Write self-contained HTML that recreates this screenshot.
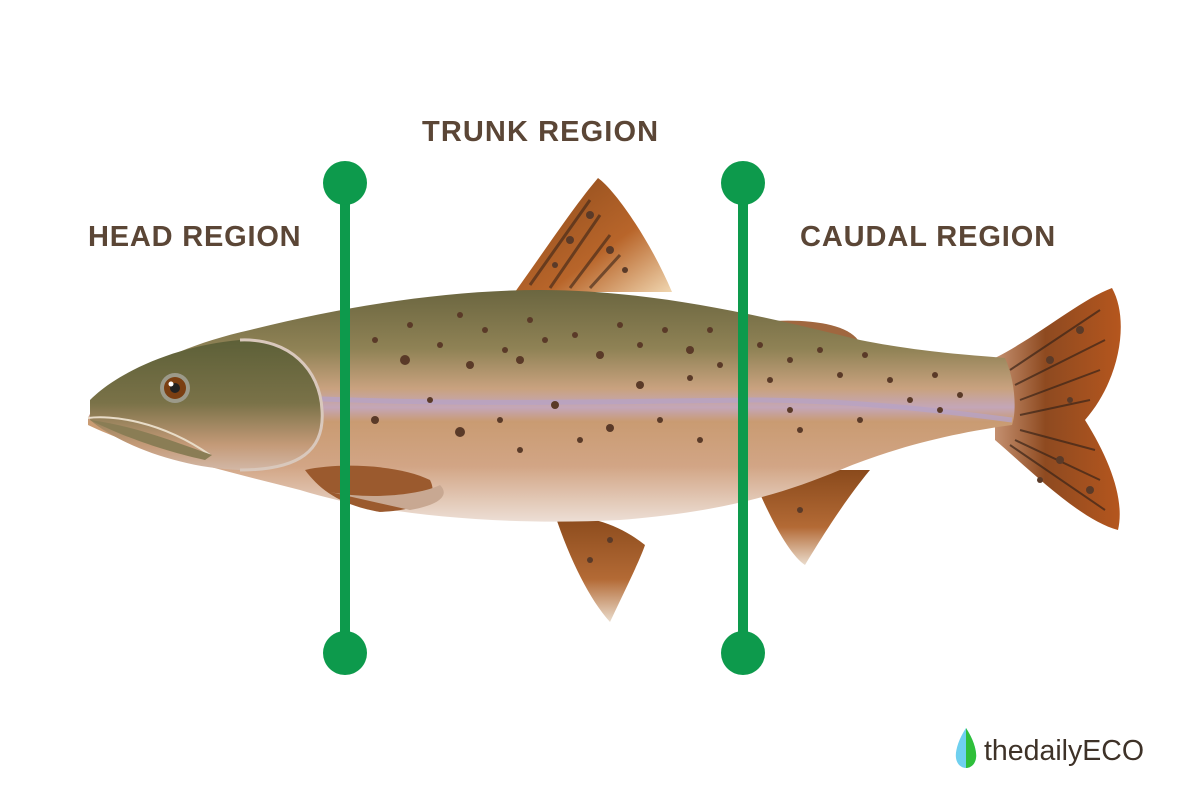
<!DOCTYPE html>
<html><head><meta charset="utf-8"><style>
html,body{margin:0;padding:0;background:#fff;width:1200px;height:800px;overflow:hidden}
svg{display:block}
text{font-family:"Liberation Sans",sans-serif;font-weight:bold;fill:#5b4636}
</style></head><body>
<svg width="1200" height="800" viewBox="0 0 1200 800">
<defs>
<linearGradient id="body" x1="0" y1="290" x2="0" y2="525" gradientUnits="userSpaceOnUse">
<stop offset="0" stop-color="#6b6640"/><stop offset="0.25" stop-color="#8f8255"/>
<stop offset="0.42" stop-color="#c9a27f"/><stop offset="0.5" stop-color="#c4a6b8"/>
<stop offset="0.56" stop-color="#c99b72"/><stop offset="0.75" stop-color="#d2a585"/>
<stop offset="1" stop-color="#eee2da"/></linearGradient>
<linearGradient id="head" x1="0" y1="340" x2="0" y2="480" gradientUnits="userSpaceOnUse">
<stop offset="0" stop-color="#5d6038"/><stop offset="0.45" stop-color="#7a7248"/>
<stop offset="0.75" stop-color="#c49a78"/><stop offset="1" stop-color="#d8c3b8"/></linearGradient>
<linearGradient id="fin" x1="0" y1="0" x2="1" y2="1">
<stop offset="0" stop-color="#8a4a1c"/><stop offset="0.6" stop-color="#b8652a"/><stop offset="1" stop-color="#f0d6b0"/></linearGradient>
<linearGradient id="fin2" x1="0" y1="0" x2="0" y2="1">
<stop offset="0" stop-color="#8a4a1c"/><stop offset="0.6" stop-color="#b36a35"/><stop offset="1" stop-color="#eadccc"/></linearGradient>
<linearGradient id="tail" x1="0" y1="0" x2="1" y2="0">
<stop offset="0" stop-color="#c49070"/><stop offset="0.4" stop-color="#8e4a20"/><stop offset="1" stop-color="#b5561e"/></linearGradient>
</defs>
<text x="88" y="246" font-size="29" letter-spacing="0.8">HEAD REGION</text>
<text x="422" y="141" font-size="29" letter-spacing="1.1">TRUNK REGION</text>
<text x="800" y="246" font-size="29" letter-spacing="0.9">CAUDAL REGION</text>

<path d="M515,292 C545,250 575,205 598,178 C615,190 650,240 672,292 Z" fill="url(#fin)"/>
<g stroke="#3a2418" stroke-width="3" opacity="0.6"><path d="M530,285 L590,200 M550,288 L600,215 M570,288 L610,235 M590,288 L620,255"/></g>
<path d="M760,322 C800,318 845,322 858,340 L830,350 Z" fill="#a0673f"/>
<path d="M995,358 C1040,335 1080,300 1112,288 C1130,320 1120,380 1085,420 C1110,460 1125,500 1118,530 C1080,520 1030,470 995,440 Z" fill="url(#tail)"/>
<g stroke="#3a2418" stroke-width="2" opacity="0.7">
<path d="M1010,370 L1100,310 M1015,385 L1105,340 M1020,400 L1100,370 M1020,415 L1090,400 M1020,430 L1095,450 M1015,440 L1100,480 M1010,445 L1105,510"/></g>
<path d="M750,470 C770,520 790,555 805,565 C820,540 845,500 870,470 Z" fill="url(#fin2)"/>
<path d="M555,515 C570,560 590,600 610,622 C625,590 640,560 645,545 C620,525 590,515 555,515 Z" fill="url(#fin2)"/>
<path d="M88,418 C100,390 160,350 250,330 C350,305 450,290 540,290 C650,290 760,315 860,340 C920,352 970,355 1005,358 C1015,380 1017,410 1012,425 C960,432 900,445 840,470 C780,495 720,512 620,520 C500,526 380,515 300,490 C220,470 140,450 88,425 Z" fill="url(#body)"/>
<path d="M300,398 C450,405 600,402 750,400 C860,400 950,412 1012,420" stroke="#b7a2c4" stroke-width="5" fill="none" opacity="0.8"/>
<path d="M90,400 C120,370 180,345 240,340 C290,338 320,370 322,410 C325,450 300,470 240,470 C180,468 120,445 90,420 Z" fill="url(#head)"/>
<path d="M240,340 C290,338 320,370 322,410 C325,450 300,470 240,470" stroke="#d9c8bc" stroke-width="3" fill="none"/>
<path d="M88,418 C110,415 160,420 210,455" stroke="#e8dcc8" stroke-width="2" fill="none"/>
<path d="M90,420 C110,430 150,448 205,460 L212,455 C170,440 130,425 90,420Z" fill="#8a7d55"/>
<path d="M305,470 C340,462 400,465 430,480 C440,500 420,510 380,512 C340,505 320,490 305,470 Z" fill="#9b5a2e"/>
<path d="M330,492 C370,500 420,495 440,485 C450,495 440,505 410,510 Z" fill="#c8a892"/>
<circle cx="175" cy="388" r="15" fill="#9c9a8a"/>
<circle cx="175" cy="388" r="11" fill="#7b3f12"/>
<circle cx="175" cy="388" r="5" fill="#222"/>
<circle cx="171" cy="384" r="2.5" fill="#fff"/>
<g fill="#5a3a28">
<circle cx="375" cy="340" r="3"/><circle cx="410" cy="325" r="3"/><circle cx="405" cy="360" r="5"/><circle cx="440" cy="345" r="3"/><circle cx="460" cy="315" r="3"/><circle cx="485" cy="330" r="3"/><circle cx="470" cy="365" r="4"/><circle cx="505" cy="350" r="3"/><circle cx="530" cy="320" r="3"/><circle cx="545" cy="340" r="3"/><circle cx="520" cy="360" r="4"/><circle cx="575" cy="335" r="3"/><circle cx="600" cy="355" r="4"/><circle cx="620" cy="325" r="3"/><circle cx="640" cy="345" r="3"/><circle cx="665" cy="330" r="3"/><circle cx="690" cy="350" r="4"/><circle cx="710" cy="330" r="3"/><circle cx="720" cy="365" r="3"/><circle cx="640" cy="385" r="4"/><circle cx="690" cy="378" r="3"/><circle cx="555" cy="405" r="4"/><circle cx="500" cy="420" r="3"/><circle cx="460" cy="432" r="5"/><circle cx="610" cy="428" r="4"/><circle cx="580" cy="440" r="3"/><circle cx="660" cy="420" r="3"/><circle cx="700" cy="440" r="3"/><circle cx="520" cy="450" r="3"/><circle cx="430" cy="400" r="3"/><circle cx="375" cy="420" r="4"/><circle cx="760" cy="345" r="3"/><circle cx="790" cy="360" r="3"/><circle cx="820" cy="350" r="3"/><circle cx="840" cy="375" r="3"/><circle cx="865" cy="355" r="3"/><circle cx="890" cy="380" r="3"/><circle cx="910" cy="400" r="3"/><circle cx="935" cy="375" r="3"/><circle cx="960" cy="395" r="3"/><circle cx="940" cy="410" r="3"/><circle cx="790" cy="410" r="3"/><circle cx="800" cy="430" r="3"/><circle cx="860" cy="420" r="3"/><circle cx="770" cy="380" r="3"/>
<circle cx="570" cy="240" r="4"/><circle cx="590" cy="215" r="4"/><circle cx="610" cy="250" r="4"/><circle cx="555" cy="265" r="3"/><circle cx="625" cy="270" r="3"/><circle cx="1050" cy="360" r="4"/><circle cx="1080" cy="330" r="4"/><circle cx="1060" cy="460" r="4"/><circle cx="1090" cy="490" r="4"/><circle cx="1040" cy="480" r="3"/><circle cx="1070" cy="400" r="3"/><circle cx="800" cy="510" r="3"/><circle cx="590" cy="560" r="3"/><circle cx="610" cy="540" r="3"/>
</g>
<g fill="#0d9a4c" stroke="#0d9a4c">
<line x1="345" y1="183" x2="345" y2="653" stroke-width="10"/>
<line x1="743" y1="183" x2="743" y2="653" stroke-width="10"/>
<circle cx="345" cy="183" r="22" stroke="none"/><circle cx="345" cy="653" r="22" stroke="none"/>
<circle cx="743" cy="183" r="22" stroke="none"/><circle cx="743" cy="653" r="22" stroke="none"/>
</g>
<path d="M966,728 C958,740 955,752 956,758 C957,765 962,768 966,768 C970,768 975,765 976,758 C977,752 974,740 966,728Z" fill="#6fd0ef"/>
<path d="M966,728 C974,740 977,752 976,758 C975,765 970,768 966,768Z" fill="#2fbf3a"/>
<text x="984" y="760" font-size="29" style="font-weight:normal;fill:#3e3228" textLength="160" lengthAdjust="spacingAndGlyphs">thedailyECO</text>
</svg>
</body></html>
